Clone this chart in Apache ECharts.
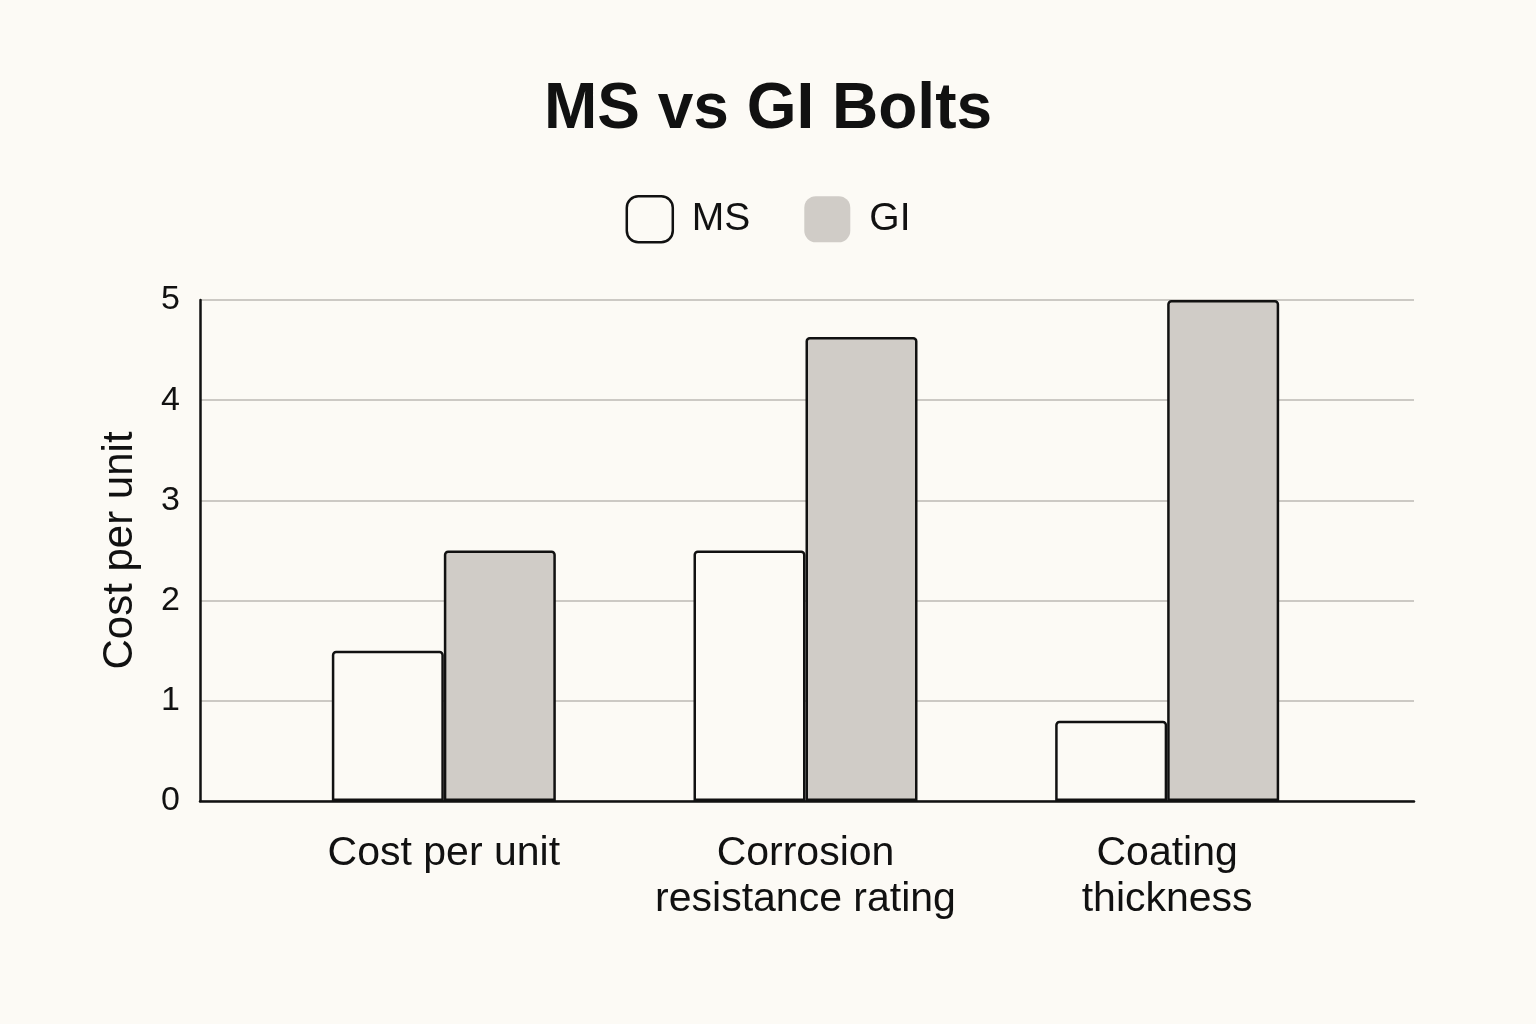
<!DOCTYPE html>
<html>
<head>
<meta charset="utf-8">
<script src="https://cdn.jsdelivr.net/npm/echarts@6/dist/echarts.min.js"></script>
<style>
html,body{margin:0;padding:0;background:#fcfaf5;}
#c{width:1536px;height:1024px;}
</style>
</head>
<body>
<div id="c"></div>
<script>
var categories = ['Cost per unit', 'Corrosion\nresistance rating', 'Coating\nthickness'];
var msValues = [1.5, 2.5, 0.8];
var giValues = [2.5, 4.63, 5.0];
var yTicks = [0, 1, 2, 3, 4, 5];

var FONT = '"Liberation Sans", Arial, sans-serif';
var chart = echarts.init(document.getElementById('c'));
chart.setOption({
  backgroundColor: '#fcfaf5',
  animation: false,
  title: {
    text: 'MS vs GI Bolts',
    left: 'center',
    top: 73,
    textStyle: { fontFamily: FONT, fontSize: 64, fontWeight: 'bold', color: '#111' }
  },
  legend: {
    top: 190,
    left: 'center',
    itemWidth: 46,
    itemHeight: 46,
    itemGap: 54,
    icon: 'roundRect',
    textStyle: { fontFamily: FONT, fontSize: 39, color: '#111', padding: [0, 0, 0, 14] },
    data: [
      { name: 'MS', itemStyle: { color: '#fcfaf5', borderColor: '#111', borderWidth: 2.5 } },
      { name: 'GI', itemStyle: { color: '#d0ccc7', borderWidth: 0 } }
    ]
  },
  grid: [
    { left: 200, right: 122, top: 300, bottom: 223 },
    { left: 263, right: 188, top: 300, bottom: 223 }
  ],
  xAxis: [
    {
      gridIndex: 0, type: 'category', data: categories,
      axisLine: { show: true, lineStyle: { color: '#111', width: 2.5 } },
      axisTick: { show: false }, axisLabel: { show: false }, splitLine: { show: false }
    },
    {
      gridIndex: 1, type: 'category', data: categories,
      axisLine: { show: false }, axisTick: { show: false },
      axisLabel: { interval: 0, fontFamily: FONT, fontSize: 41, color: '#111', margin: 30, lineHeight: 46 }
    }
  ],
  yAxis: [
    {
      gridIndex: 0, type: 'value', min: 0, max: 5, interval: 1,
      name: 'Cost per unit', nameLocation: 'middle', nameGap: 59,
      nameTextStyle: { fontFamily: FONT, fontSize: 42, color: '#111' },
      axisLine: { show: true, lineStyle: { color: '#111', width: 2.5 } },
      axisTick: { show: false },
      axisLabel: {
        fontFamily: FONT, fontSize: 34, color: '#111', margin: 20,
        formatter: function (v) { return yTicks.indexOf(v) >= 0 ? String(v) : ''; }
      },
      splitLine: { show: true, lineStyle: { color: '#bcb9b3', width: 1.5 } }
    },
    {
      gridIndex: 1, type: 'value', min: 0, max: 5, interval: 1, show: false,
      splitLine: { show: false }
    }
  ],
  series: [
    {
      name: 'MS', type: 'bar', xAxisIndex: 1, yAxisIndex: 1,
      data: msValues, barWidth: 112, barGap: '0%',
      itemStyle: { color: '#fcfaf5', borderColor: '#111', borderWidth: 2.5, borderRadius: [3, 3, 0, 0] }
    },
    {
      name: 'GI', type: 'bar', xAxisIndex: 1, yAxisIndex: 1,
      data: giValues, barWidth: 112, barGap: '0%',
      itemStyle: { color: '#d0ccc7', borderColor: '#111', borderWidth: 2.5, borderRadius: [3, 3, 0, 0] }
    }
  ]
});
</script>
</body>
</html>
